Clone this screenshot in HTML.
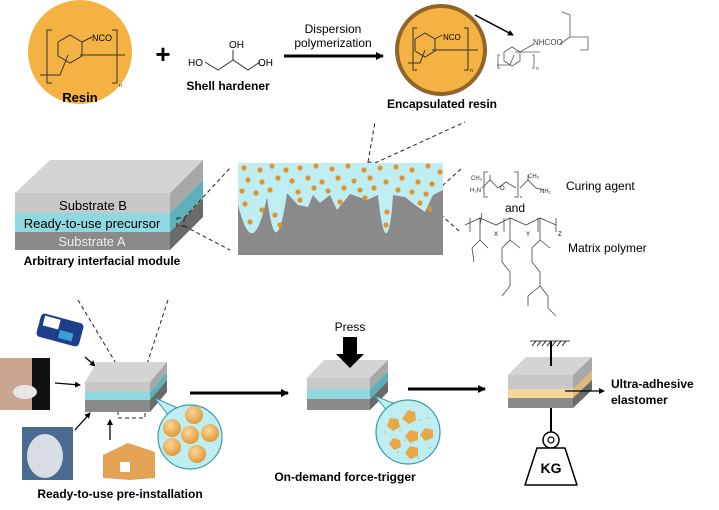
<!DOCTYPE html>
<html><head><meta charset="utf-8"><style>
html,body{margin:0;padding:0;background:#fff;width:719px;height:510px;overflow:hidden}
svg{display:block}
text{font-family:"Liberation Sans",Arial,sans-serif}
.b{font-weight:bold}
</style></head><body>
<svg width="719" height="510" viewBox="0 0 719 510" xmlns="http://www.w3.org/2000/svg">
<defs>
<marker id="ah" markerWidth="8" markerHeight="8" refX="7" refY="4" orient="auto" markerUnits="userSpaceOnUse"><path d="M0,0 L8,4 L0,8z" fill="#000"/></marker>
<marker id="ahs" markerWidth="6" markerHeight="6" refX="5" refY="3" orient="auto" markerUnits="userSpaceOnUse"><path d="M0,0 L6,3 L0,6z" fill="#000"/></marker>
<radialGradient id="sp" cx="0.4" cy="0.35" r="0.65"><stop offset="0" stop-color="#fbd79a"/><stop offset="1" stop-color="#e09a3a"/></radialGradient>
</defs>

<!-- Resin -->
<circle cx="80" cy="52" r="52" fill="#f3b242"/>
<g stroke="#333" stroke-width="1" fill="none">
<path d="M52,30 L47,30 L47,83 L52,83"/><path d="M112,30 L117,30 L117,83 L112,83"/>
<polygon points="70,35 82,42 82,56 70,63 58,56 58,42"/>
<path d="M82,42 L92,37"/><path d="M40,75 L60,75 L68,55"/><path d="M80,55 L125,55"/>
</g>
<text x="92" y="41" font-size="9">NCO</text>
<text x="119" y="87" font-size="5">n</text>
<text x="80" y="102" font-size="13" class="b" text-anchor="middle">Resin</text>

<text x="163" y="63" font-size="26" class="b" text-anchor="middle">+</text>
<!-- glycerol -->
<g stroke="#333" stroke-width="1" fill="none"><path d="M205,62 L218,70 L233,60 L248,70 L260,62"/><path d="M233,60 L233,50"/></g>
<text x="229" y="48" font-size="10">OH</text>
<text x="188" y="66" font-size="10">HO</text>
<text x="258" y="66" font-size="10">OH</text>
<text x="228" y="90" font-size="12" class="b" text-anchor="middle">Shell hardener</text>

<line x1="284" y1="56" x2="383" y2="56" stroke="#000" stroke-width="3" marker-end="url(#ah)"/>
<text x="333" y="33" font-size="12" text-anchor="middle">Dispersion</text>
<text x="333" y="47" font-size="12" text-anchor="middle">polymerization</text>

<!-- encapsulated -->
<circle cx="441" cy="50" r="44" fill="#f3b242" stroke="#93642a" stroke-width="4"/>
<g stroke="#333" stroke-width="1" fill="none">
<path d="M417,28 L413,28 L413,70 L417,70"/><path d="M464,28 L468,28 L468,70 L464,70"/>
<polygon points="425,33 435,39 435,51 425,57 415,51 415,39"/>
<path d="M435,39 L442,35"/><path d="M408,63 L420,63 L425,50"/><path d="M432,50 L478,50"/>
</g>
<text x="443" y="40" font-size="8">NCO</text>
<text x="470" y="72" font-size="5">n</text>
<line x1="475" y1="15" x2="513" y2="35" stroke="#000" stroke-width="1.5" marker-end="url(#ahs)"/>
<text x="442" y="108" font-size="12" class="b" text-anchor="middle">Encapsulated resin</text>
<g stroke="#555" stroke-width="0.8" fill="none">
<path d="M500,55 L498,55 L498,68 L500,68"/><path d="M532,55 L534,55 L534,68 L532,68"/>
<polygon points="512,47 520,52 520,61 512,66 504,61 504,52"/>
<path d="M520,52 L534,44"/><path d="M497,65 L510,65 L514,55"/><path d="M515,52 L540,52"/>
<path d="M560,44 L570,37 L570,15 L562,12"/><path d="M570,37 L588,37 L588,50 L580,50"/>
</g>
<text x="533" y="45" font-size="8" fill="#444">NHCOO</text>
<text x="536" y="70" font-size="5" fill="#444">n</text>

<!-- Module block -->
<polygon points="15,193 50,160 203,160 170,193" fill="#d4d4d4"/>
<rect x="15" y="193" width="155" height="20" fill="#c8c8c8"/>
<rect x="15" y="213" width="155" height="19" fill="#8fd8e0"/>
<rect x="15" y="232" width="155" height="18" fill="#8a8a8a"/>
<polygon points="170,193 203,160 203,180 170,213" fill="#a8a8a8"/>
<polygon points="170,213 203,180 203,199 170,232" fill="#5fb0b8"/>
<polygon points="170,232 203,199 203,217 170,250" fill="#6a6a6a"/>
<text x="93" y="210" font-size="13" text-anchor="middle">Substrate B</text>
<text x="92" y="228" font-size="13" text-anchor="middle">Ready-to-use precursor</text>
<text x="92" y="246" font-size="13" text-anchor="middle" fill="#eee">Substrate A</text>
<text x="102" y="265" font-size="12" class="b" text-anchor="middle">Arbitrary interfacial module</text>
<g stroke="#222" stroke-width="1" stroke-dasharray="4,3" fill="none">
<rect x="177" y="218" width="7" height="8"/>
<line x1="184" y1="218" x2="230" y2="168"/><line x1="184" y1="226" x2="230" y2="250"/>
<circle cx="370" cy="167" r="5"/><line x1="368" y1="162" x2="375" y2="122"/><line x1="375" y1="163" x2="465" y2="122"/>
<circle cx="430" cy="200" r="5"/><line x1="432" y1="195" x2="462" y2="168"/><line x1="430" y1="205" x2="460" y2="232"/>
<line x1="78" y1="300" x2="120" y2="370"/><line x1="168" y1="300" x2="145" y2="370"/>
<rect x="118" y="370" width="27" height="48"/>
</g>

<!-- microscope panel -->
<rect x="238" y="163" width="205" height="92" fill="#bfeef2"/>
<path d="M238,205 Q246,236 253,233 Q260,230 267,197 Q272,236 277,232 Q282,228 287,193 L298,205 L308,207 L313,195 L320,203 L330,195 L337,210 L350,194 L367,200 L378,195 Q382,236 387,233 Q391,228 393,195 L405,197 L415,205 L425,212 L433,195 L443,190 L443,255 L238,255Z" fill="#8a8a8a"/>
<g fill="#e0952c">
<circle cx="244" cy="168" r="2.6"/><circle cx="260" cy="170" r="2.6"/><circle cx="272" cy="166" r="2.6"/><circle cx="286" cy="170" r="2.6"/><circle cx="300" cy="168" r="2.6"/><circle cx="316" cy="166" r="2.6"/><circle cx="332" cy="169" r="2.6"/><circle cx="348" cy="166" r="2.6"/><circle cx="364" cy="170" r="2.6"/><circle cx="380" cy="168" r="2.6"/><circle cx="396" cy="167" r="2.6"/><circle cx="412" cy="170" r="2.6"/><circle cx="428" cy="166" r="2.6"/><circle cx="440" cy="172" r="2.6"/>
<circle cx="248" cy="180" r="2.6"/><circle cx="262" cy="182" r="2.6"/><circle cx="278" cy="178" r="2.6"/><circle cx="292" cy="181" r="2.6"/><circle cx="308" cy="178" r="2.6"/><circle cx="322" cy="182" r="2.6"/><circle cx="338" cy="178" r="2.6"/><circle cx="354" cy="181" r="2.6"/><circle cx="370" cy="178" r="2.6"/><circle cx="386" cy="182" r="2.6"/><circle cx="402" cy="178" r="2.6"/><circle cx="418" cy="182" r="2.6"/><circle cx="432" cy="184" r="2.6"/>
<circle cx="242" cy="191" r="2.6"/><circle cx="256" cy="193" r="2.6"/><circle cx="270" cy="190" r="2.6"/><circle cx="298" cy="192" r="2.6"/><circle cx="314" cy="188" r="2.6"/><circle cx="328" cy="191" r="2.6"/><circle cx="344" cy="188" r="2.6"/><circle cx="360" cy="190" r="2.6"/><circle cx="374" cy="188" r="2.6"/><circle cx="398" cy="190" r="2.6"/><circle cx="412" cy="192" r="2.6"/><circle cx="426" cy="194" r="2.6"/>
<circle cx="245" cy="204" r="2.6"/><circle cx="262" cy="210" r="2.6"/><circle cx="250" cy="222" r="2.6"/><circle cx="275" cy="215" r="2.6"/><circle cx="280" cy="225" r="2.6"/><circle cx="340" cy="202" r="2.6"/><circle cx="365" cy="198" r="2.6"/><circle cx="387" cy="212" r="2.6"/><circle cx="386" cy="225" r="2.6"/><circle cx="420" cy="203" r="2.6"/><circle cx="430" cy="209" r="2.6"/><circle cx="300" cy="200" r="2.6"/>
</g>

<!-- curing agent / matrix polymer -->
<g stroke="#444" stroke-width="0.8" fill="none">
<path d="M488,172 L484,172 L484,197 L488,197"/><path d="M514,172 L518,172 L518,197 L514,197"/>
<path d="M482,188 L490,180 L498,188 L506,182 L516,188"/><path d="M490,180 L490,175"/>
<path d="M520,188 L528,180 L536,188 L544,190"/><path d="M528,180 L528,175"/>
<path d="M465,225 L480,218 L496,225 L510,218 L526,225 L540,218 L556,225"/>
<path d="M482,213 L480,225"/><path d="M470,218 L470,232"/><path d="M504,218 L504,232"/><path d="M538,218 L538,232"/><path d="M556,218 L556,232"/>
<path d="M480,218 L480,240 L472,248 L474,262"/><path d="M480,240 L488,248"/>
<path d="M510,218 L510,240 L502,248 L502,262 L510,272 L510,286 L502,296"/><path d="M510,240 L520,248"/>
<path d="M540,218 L540,240 L532,248 L532,262 L540,272 L540,286 L528,296 L528,306"/><path d="M540,286 L548,296 L548,308 L556,316"/><path d="M540,240 L550,248"/>
</g>
<text x="471" y="180" font-size="6" fill="#333">CH₃</text>
<text x="528" y="178" font-size="6" fill="#333">CH₃</text>
<text x="470" y="192" font-size="6" fill="#333">H₂N</text>
<text x="540" y="193" font-size="6" fill="#333">NH₂</text>
<text x="500" y="190" font-size="6" fill="#333">O</text>
<text x="520" y="198" font-size="4" fill="#333">n</text>
<text x="566" y="190" font-size="12">Curing agent</text>
<text x="515" y="212" font-size="12" text-anchor="middle">and</text>
<text x="494" y="236" font-size="6">X</text><text x="526" y="236" font-size="6">Y</text><text x="558" y="236" font-size="6">Z</text>
<text x="568" y="252" font-size="12">Matrix polymer</text>

<!-- bottom: stage 1 photos -->
<g transform="rotate(15 60 330)"><rect x="38" y="318" width="44" height="24" rx="4" fill="#1d3f8a"/><rect x="42" y="320" width="16" height="10" fill="#fff"/><rect x="60" y="330" width="14" height="8" fill="#3aa0d8"/></g>
<rect x="0" y="358" width="50" height="52" fill="#c9a48f"/><rect x="32" y="358" width="18" height="52" fill="#111"/><ellipse cx="25" cy="392" rx="12" ry="7" fill="#e6e6e6"/>
<rect x="22" y="427" width="51" height="53" fill="#4a6a8f"/><ellipse cx="45" cy="456" rx="18" ry="22" fill="#d8dde3"/>
<polygon points="103,455 128,443 155,452 155,478 130,480 103,478" fill="#e3a254"/><rect x="120" y="462" width="10" height="10" fill="#fff"/>
<g stroke="#000" stroke-width="1.3">
<line x1="85" y1="357" x2="95" y2="366" marker-end="url(#ahs)"/>
<line x1="55" y1="383" x2="80" y2="385" marker-end="url(#ahs)"/>
<line x1="75" y1="430" x2="90" y2="413" marker-end="url(#ahs)"/>
<line x1="110" y1="440" x2="110" y2="420" marker-end="url(#ahs)"/>
</g>
<!-- block1 -->
<polygon points="85,382 97,362 167,362 150,382" fill="#d4d4d4"/>
<rect x="85" y="382" width="65" height="10" fill="#c8c8c8"/>
<rect x="85" y="392" width="65" height="8" fill="#8fd8e0"/>
<rect x="85" y="400" width="65" height="12" fill="#8a8a8a"/>
<polygon points="150,382 167,362 167,372 150,392" fill="#a8a8a8"/>
<polygon points="150,392 167,372 167,380 150,400" fill="#5fb0b8"/>
<polygon points="150,400 167,380 167,392 150,412" fill="#6a6a6a"/>
<path d="M155,398 L168,415 L180,409Z" fill="#bfeef2" stroke="#3a9aa4"/>
<circle cx="190" cy="437" r="32" fill="#bfeef2" stroke="#3a9aa4" stroke-width="1.2"/>
<g fill="url(#sp)"><circle cx="194" cy="415" r="9"/><circle cx="172" cy="428" r="9"/><circle cx="190" cy="435" r="9"/><circle cx="210" cy="433" r="9"/><circle cx="172" cy="447" r="9"/><circle cx="197" cy="454" r="9"/></g>
<text x="120" y="498" font-size="12" class="b" text-anchor="middle">Ready-to-use pre-installation</text>

<line x1="190" y1="393" x2="288" y2="393" stroke="#000" stroke-width="3" marker-end="url(#ah)"/>

<!-- block2 -->
<polygon points="307,378 324,360 388,360 370,378" fill="#d4d4d4"/>
<rect x="307" y="378" width="63" height="11" fill="#c8c8c8"/>
<rect x="307" y="389" width="63" height="10" fill="#8fd8e0"/>
<rect x="307" y="399" width="63" height="11" fill="#8a8a8a"/>
<polygon points="370,378 388,360 388,371 370,389" fill="#a8a8a8"/>
<polygon points="370,389 388,371 388,381 370,399" fill="#5fb0b8"/>
<polygon points="370,399 388,381 388,392 370,410" fill="#6a6a6a"/>
<polygon points="343,337 357,337 357,354 364,354 350,368 336,354 343,354" fill="#000"/>
<text x="350" y="331" font-size="12" text-anchor="middle">Press</text>
<path d="M375,396 L388,412 L398,405Z" fill="#bfeef2" stroke="#3a9aa4"/>
<circle cx="408" cy="432" r="32" fill="#bfeef2" stroke="#3a9aa4" stroke-width="1.2"/>
<g fill="#e9a848"><path d="M408,410 l7,2 l1,8 l-7,4 l-7,-5z"/><path d="M390,418 l8,1 l2,8 l-7,4 l-6,-5z"/><path d="M410,430 l8,2 l0,8 l-8,3 l-5,-7z"/><path d="M425,428 l8,2 l0,8 l-8,3 l-5,-6z"/><path d="M393,438 l7,2 l1,7 l-7,3 l-5,-6z"/><path d="M410,446 l8,2 l0,8 l-8,3 l-5,-6z"/></g>
<g fill="#e0b060"><circle cx="400" cy="430" r="0.9"/><circle cx="420" cy="420" r="0.9"/><circle cx="398" cy="452" r="0.9"/><circle cx="430" cy="448" r="0.9"/><circle cx="385" cy="432" r="0.9"/><circle cx="418" cy="458" r="0.9"/><circle cx="428" cy="418" r="0.9"/><circle cx="405" cy="440" r="0.9"/></g>
<text x="345" y="481" font-size="12" class="b" text-anchor="middle">On-demand force-trigger</text>

<line x1="408" y1="389" x2="485" y2="389" stroke="#000" stroke-width="3" marker-end="url(#ah)"/>

<!-- block3 -->
<g stroke="#000" stroke-width="0.8"><line x1="530" y1="341" x2="570" y2="341"/><path d="M532,346 l4,-5 M537,346 l4,-5 M542,346 l4,-5 M547,346 l4,-5 M552,346 l4,-5 M557,346 l4,-5 M562,346 l4,-5"/></g>
<line x1="551" y1="341" x2="551" y2="360" stroke="#000" stroke-width="2"/>
<polygon points="508,375 526,357 592,357 573,375" fill="#d4d4d4"/>
<line x1="551" y1="341" x2="551" y2="366" stroke="#000" stroke-width="2"/>
<rect x="508" y="375" width="65" height="14" fill="#c8c8c8"/>
<rect x="508" y="389" width="65" height="9" fill="#f7d49a"/>
<rect x="508" y="398" width="65" height="10" fill="#8a8a8a"/>
<polygon points="573,375 592,357 592,371 573,389" fill="#a8a8a8"/>
<polygon points="573,389 592,371 592,380 573,398" fill="#e0b878"/>
<polygon points="573,398 592,380 592,390 573,408" fill="#6a6a6a"/>
<line x1="565" y1="391" x2="604" y2="391" stroke="#000" stroke-width="1.3" marker-end="url(#ahs)"/>
<text x="611" y="388" font-size="12" class="b">Ultra-adhesive</text>
<text x="611" y="404" font-size="12" class="b">elastomer</text>
<line x1="551" y1="408" x2="551" y2="432" stroke="#000" stroke-width="2"/>
<circle cx="551" cy="440" r="8" fill="#fff" stroke="#000" stroke-width="1.5"/>
<circle cx="551" cy="440" r="3" fill="#fff" stroke="#000" stroke-width="1.2"/>
<path d="M537,448 L565,448 L577,485 L525,485Z" fill="#fff" stroke="#000" stroke-width="1.5" stroke-linejoin="round"/>
<text x="551" y="473" font-size="14" class="b" text-anchor="middle">KG</text>
</svg>
</body></html>
